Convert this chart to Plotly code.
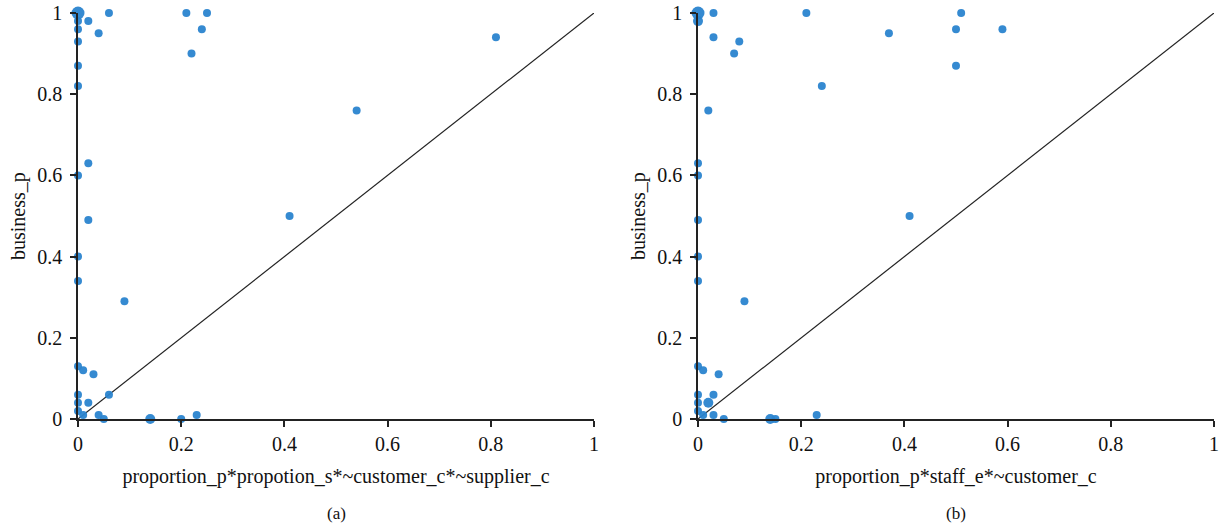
import plotly.graph_objects as go

# ---- data: panel (a) ----
a_x = [0, 0, 0.02, 0.06, 0, 0.04, 0, 0.21, 0.25, 0.24, 0.22, 0, 0, 0.02, 0,
       0.81, 0.54, 0.02, 0, 0, 0.09, 0.41, 0, 0.01, 0.03, 0, 0.06, 0, 0.02,
       0, 0.01, 0.04, 0.05, 0.14, 0.20, 0.23]
a_y = [1, 0.98, 0.98, 1, 0.96, 0.95, 0.93, 1, 1, 0.96, 0.90, 0.87, 0.82, 0.63, 0.60,
       0.94, 0.76, 0.49, 0.40, 0.34, 0.29, 0.50, 0.13, 0.12, 0.11, 0.06, 0.06, 0.04, 0.04,
       0.02, 0.01, 0.01, 0, 0, 0, 0.01]
a_n = [4, 1, 1, 1, 1, 1, 1, 1, 1, 1, 1, 1, 1, 1, 1,
       1, 1, 1, 1, 1, 1, 1, 1, 1, 1, 1, 1, 1, 1,
       1, 1, 1, 1, 2, 1, 1]

# ---- data: panel (b) ----
b_x = [0, 0, 0.03, 0.21, 0.03, 0.08, 0.07, 0.37, 0.24, 0.02, 0.51, 0.50, 0.59, 0.50,
       0, 0, 0, 0, 0, 0.09, 0.41, 0, 0.01, 0.04, 0, 0.03, 0, 0.02, 0, 0.01, 0.03,
       0.05, 0.14, 0.15, 0.23]
b_y = [1, 0.98, 1, 1, 0.94, 0.93, 0.90, 0.95, 0.82, 0.76, 1, 0.96, 0.96, 0.87,
       0.63, 0.60, 0.49, 0.40, 0.34, 0.29, 0.50, 0.13, 0.12, 0.11, 0.06, 0.06, 0.04, 0.04,
       0.02, 0.01, 0.01, 0, 0, 0, 0.01]
b_n = [4, 2, 1, 1, 1, 1, 1, 1, 1, 1, 1, 1, 1, 1,
       1, 1, 1, 1, 1, 1, 1, 1, 1, 1, 1, 1, 1, 2, 1, 1, 1,
       1, 2, 1, 1]

diag = [0, 1]
ticks = [0, 0.2, 0.4, 0.6, 0.8, 1]
tick_text = ["0", "0.2", "0.4", "0.6", "0.8", "1"]
x_titles = ["proportion_p*propotion_s*~customer_c*~supplier_c",
            "proportion_p*staff_e*~customer_c"]
y_title = "business_p"
panel_labels = ["(a)", "(b)"]

FONT = "Liberation Serif"
DOT = "#2a84cf"

def sizes(ns):
    return [8 if n == 1 else (10 if n == 2 else 13) for n in ns]

fig = go.Figure()
for i, (xs, ys, ns) in enumerate([(a_x, a_y, a_n), (b_x, b_y, b_n)]):
    xa = "x" if i == 0 else "x2"
    ya = "y" if i == 0 else "y2"
    fig.add_trace(go.Scatter(x=diag, y=diag, mode="lines",
                             line=dict(color="#222222", width=1.2),
                             xaxis=xa, yaxis=ya, showlegend=False, hoverinfo="skip"))
    fig.add_trace(go.Scatter(x=xs, y=ys, mode="markers",
                             marker=dict(color=DOT, size=sizes(ns), opacity=0.95,
                                         line=dict(width=0)),
                             cliponaxis=False, xaxis=xa, yaxis=ya, showlegend=False))

W, H = 1221, 529
xdoms = [[78 / W, 594 / W], [698 / W, 1214 / W]]
ydom = [(H - 419) / H, (H - 13) / H]

axis_common = dict(range=[0, 1], tickvals=ticks, ticktext=tick_text,
                   showgrid=False, zeroline=False, showline=True, automargin=False,
                   linecolor="#222222", linewidth=1.5, ticks="outside",
                   ticklen=6, tickwidth=1.5, tickcolor="#222222",
                   tickfont=dict(family=FONT, size=20, color="#111111"))

layout = dict(width=W, height=H, margin=dict(l=0, r=0, t=0, b=0),
              plot_bgcolor="white", paper_bgcolor="white",
              font=dict(family=FONT, color="#111111"))
fig.update_layout(**layout)
ytitle_x = [18, 638]
for i in range(2):
    sx = "" if i == 0 else "2"
    fig.layout["xaxis" + sx] = dict(domain=xdoms[i], anchor="y" + sx,
                                    title=dict(text=x_titles[i], standoff=15,
                                               font=dict(family=FONT, size=20)),
                                    **axis_common)
    fig.layout["yaxis" + sx] = dict(domain=ydom, anchor="x" + sx,
                                    ticklabelstandoff=4, **axis_common)
    fig.add_annotation(x=ytitle_x[i] / W, y=(ydom[0] + ydom[1]) / 2,
                       xref="paper", yref="paper", text=y_title, textangle=-90,
                       showarrow=False, font=dict(family=FONT, size=20),
                       xanchor="center", yanchor="middle")
    fig.add_annotation(x=(xdoms[i][0] + xdoms[i][1]) / 2, y=16 / H,
                       xref="paper", yref="paper", text=panel_labels[i],
                       showarrow=False, font=dict(family=FONT, size=17),
                       xanchor="center", yanchor="middle")

fig.write_html("out.html", config={"displayModeBar": False},
               post_script="document.body.style.margin='0';document.body.style.overflow='hidden';")
